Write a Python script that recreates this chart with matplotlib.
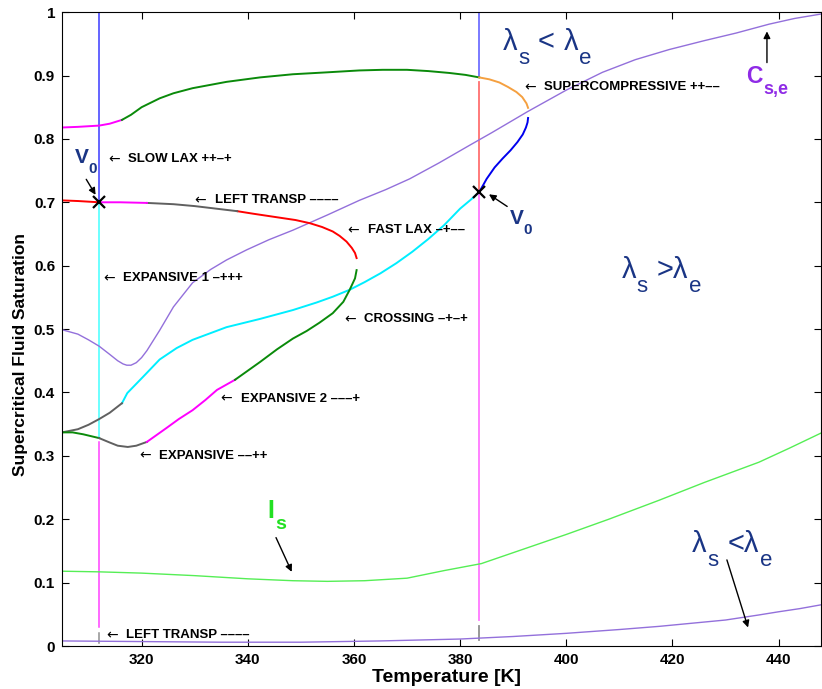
import matplotlib.pyplot as plt
from matplotlib.transforms import offset_copy

plt.rcParams['font.family'] = ['Liberation Sans', 'DejaVu Sans']

# values: temperature [K] / supercritical fluid saturation

# upper branch of the wave curve
t_top_mag = [305, 308, 312, 314, 316.3]
s_top_mag = [0.818, 0.819, 0.821, 0.824, 0.830]
t_top_green = [316.3, 318, 320, 323.4, 326, 329.6, 336, 342.3, 348.5, 354.9, 361, 365.4, 370, 374, 378, 381, 383.6]
s_top_green = [0.830, 0.838, 0.850, 0.864, 0.872, 0.880, 0.890, 0.897, 0.902, 0.905, 0.908, 0.909, 0.909, 0.907, 0.904, 0.901, 0.897]
t_orange = [383.6, 385.5, 387.4, 389, 390.6, 391.7, 392.5, 392.8]
s_orange = [0.897, 0.894, 0.889, 0.882, 0.874, 0.866, 0.856, 0.849]
t_blue = [392.8, 392.7, 392.4, 391.8, 390.8, 389.5, 388, 386.5, 385, 383.6]
s_blue = [0.833, 0.826, 0.818, 0.807, 0.795, 0.782, 0.769, 0.755, 0.737, 0.716]
t_cyan = [383.6, 382, 380, 377, 374, 371, 368, 365, 362, 359.2, 356, 353, 348.5, 342.3, 336, 329.6, 326.6,
          323.4, 320.2, 317.3, 316.3]
s_cyan = [0.716, 0.704, 0.690, 0.664, 0.642, 0.622, 0.604, 0.588, 0.574, 0.562, 0.551, 0.542, 0.530, 0.516,
          0.503, 0.483, 0.470, 0.452, 0.424, 0.399, 0.383]
t_grey_a = [305, 308, 310, 312, 314, 316.3]
s_grey_a = [0.337, 0.342, 0.349, 0.358, 0.368, 0.383]

# lower loop
t_low_green = [305, 307, 309, 312]
s_low_green = [0.337, 0.337, 0.334, 0.328]
t_low_grey = [312, 314, 315.5, 317.4, 319, 321]
s_low_grey = [0.328, 0.321, 0.316, 0.314, 0.316, 0.322]
t_low_mag = [321, 324.7, 327, 329.6, 332, 334.2, 337.6]
s_low_mag = [0.322, 0.344, 0.358, 0.372, 0.388, 0.404, 0.420]
t_low_green2 = [337.6, 342.3, 345.5, 348.5, 351.1, 353.5, 356, 358, 359.2, 360.2, 360.5]
s_low_green2 = [0.420, 0.448, 0.468, 0.485, 0.497, 0.510, 0.525, 0.543, 0.562, 0.580, 0.593]
t_red_r = [360.5, 360.2, 359.6, 358.6, 357.3, 356, 354, 351.7, 349, 345, 341, 338]
s_red_r = [0.612, 0.620, 0.628, 0.638, 0.647, 0.654, 0.661, 0.667, 0.672, 0.677, 0.682, 0.686]
t_grey_b = [338, 334, 330, 326, 321]
s_grey_b = [0.686, 0.690, 0.694, 0.697, 0.699]
t_mid_mag = [321, 316, 312]
s_mid_mag = [0.699, 0.700, 0.700]
t_red_l = [312, 308, 305]
s_red_l = [0.700, 0.702, 0.703]

# coincidence curves
t_cse = [305, 308, 310, 312, 314, 315.5, 316.5, 317.2, 318, 319, 320, 321, 323.4, 326, 329.6, 333, 336, 339.8, 344,
         348.5, 355, 361, 366, 370.5, 376, 381.8, 386, 392.7, 400, 406.8, 413, 419.4, 426, 432, 438.2, 443, 448]
s_cse = [0.499, 0.492, 0.483, 0.473, 0.460, 0.450, 0.445, 0.443, 0.443, 0.447, 0.455, 0.466, 0.498, 0.535, 0.573,
         0.594, 0.609, 0.625, 0.641, 0.656, 0.680, 0.703, 0.720, 0.737, 0.762, 0.790, 0.810, 0.843, 0.877, 0.905,
         0.925, 0.941, 0.955, 0.967, 0.981, 0.990, 0.997]
t_cse_low = [305, 320, 335, 350, 365, 380, 390, 400, 410, 417.5, 425, 430, 436.3, 440, 444, 448]
s_cse_low = [0.008, 0.007, 0.006, 0.006, 0.008, 0.011, 0.015, 0.020, 0.026, 0.031, 0.037, 0.041, 0.049, 0.054, 0.059, 0.065]
t_is = [305, 312, 320, 330, 340, 348.5, 355, 362, 370, 377, 384, 392, 400, 408, 417.5, 426, 436.3, 442, 448]
s_is = [0.118, 0.117, 0.115, 0.111, 0.106, 0.103, 0.102, 0.103, 0.107, 0.119, 0.130, 0.153, 0.176, 0.200, 0.230,
        0.258, 0.290, 0.312, 0.336]

# vertical lines through the two states
v_left = 312
v_right = 383.6
v_left_top = [1.0, 0.700, 0.322, 0.020]
v_left_bot = [0.700, 0.330, 0.030, 0.004]
v_right_top = [1.0, 0.890, 0.714, 0.031]
v_right_bot = [0.898, 0.718, 0.041, 0.010]
v0_t = [312, 383.6]
v0_s = [0.700, 0.716]

fig = plt.figure(figsize=(8.22, 6.89), dpi=100)
ax = fig.add_axes([0.0754, 0.0624, 0.9235, 0.920])
ax.set_xlim(305, 448)
ax.set_ylim(0, 1)
renderer = fig.canvas.get_renderer()

for a, b, c in zip(v_left_top, v_left_bot, ['#3a3aff', '#44ffff', '#ff40ff', '#909090']):
    ax.plot([v_left, v_left], [a, b], color=c, lw=1.1)
for a, b, c in zip(v_right_top, v_right_bot, ['#7070ff', '#ff7070', '#ff77ff', '#909090']):
    ax.plot([v_right, v_right], [a, b], color=c, lw=1.3)

ax.plot(t_cse, s_cse, color='#9370db', lw=1.0)
ax.plot(t_cse_low, s_cse_low, color='#9370db', lw=1.0)
ax.plot(t_is, s_is, color='#55ee55', lw=1.0)

segs = [(t_top_mag, s_top_mag, '#ff00ff'), (t_top_green, s_top_green, '#0a8a0a'),
        (t_orange, s_orange, '#f5a040'), (t_blue, s_blue, '#0000ee'),
        (t_cyan, s_cyan, '#00eeff'), (t_grey_a, s_grey_a, '#606060'),
        (t_low_green, s_low_green, '#0a8a0a'), (t_low_grey, s_low_grey, '#606060'),
        (t_low_mag, s_low_mag, '#ff00ff'), (t_low_green2, s_low_green2, '#0a8a0a'),
        (t_red_r, s_red_r, '#ff0000'), (t_grey_b, s_grey_b, '#606060'),
        (t_mid_mag, s_mid_mag, '#ff00ff'), (t_red_l, s_red_l, '#ff0000')]
for t, s, c in segs:
    ax.plot(t, s, color=c, lw=1.4)

ax.plot(v0_t, v0_s, 'x', color='k', ms=9, mew=1.6)

# wave names with a thin arrow in front
labels = [('SLOW LAX ++–+', 313.65, 0.768), ('LEFT TRANSP ––––', 330.0, 0.703),
          ('FAST LAX –+––', 358.8, 0.656), ('EXPANSIVE 1 –+++', 312.7, 0.580),
          ('CROSSING –+–+', 358.1, 0.516), ('EXPANSIVE 2 –––+', 334.9, 0.390),
          ('EXPANSIVE ––++', 319.5, 0.300), ('LEFT TRANSP ––––', 313.3, 0.017),
          ('SUPERCOMPRESSIVE ++––', 392.1, 0.882)]
for txt, t, s in labels:
    ax.text(t, s, '←', fontsize=10, va='center', ha='left', family='DejaVu Sans')
    ax.text(t, s, txt, transform=offset_copy(ax.transData, fig=fig, x=14.5, y=0, units='points'),
            fontsize=9.5, fontweight='bold', va='center', ha='left')


def sub_text(t, s, pieces, color, size, sub_size, drop, weight='normal'):
    # pieces: (text, is_subscript, gap after in points)
    off = 0.0
    for txt, is_sub, gap in pieces:
        fs = sub_size if is_sub else size
        dy = -drop if is_sub else 0
        tr = offset_copy(ax.transData, fig=fig, x=off, y=dy, units='points')
        tx = ax.text(t, s, txt, transform=tr, fontsize=fs, color=color, fontweight=weight,
                     ha='left', va='baseline')
        off += tx.get_window_extent(renderer).width * 72 / fig.dpi + gap


navy = '#1a3585'
aprops = dict(arrowstyle='-|>', color='k', lw=1.0, mutation_scale=10)
ax.annotate('', xy=(311.6, 0.708), xytext=(309.3, 0.740), arrowprops=aprops)
sub_text(307.4, 0.762, [('V', False, 0), ('0', True, 0)], navy, 15, 11, 7, 'bold')
ax.annotate('', xy=(385.0, 0.715), xytext=(389.3, 0.691), arrowprops=aprops)
sub_text(389.3, 0.666, [('V', False, 0), ('0', True, 0)], navy, 15, 11, 7, 'bold')
ax.annotate('', xy=(437.8, 0.974), xytext=(437.8, 0.916), arrowprops=aprops)
sub_text(433.9, 0.888, [('C', False, 0.5), ('s,e', True, 0)], '#8f2be6', 16.5, 13, 8, 'bold')
ax.annotate('', xy=(348.5, 0.113), xytext=(345.1, 0.175), arrowprops=aprops)
sub_text(343.6, 0.202, [('I', False, 1), ('s', True, 0)], '#22e022', 18, 14, 8, 'bold')
ax.annotate('', xy=(434.4, 0.025), xytext=(430.1, 0.140), arrowprops=aprops)

sub_text(388.0, 0.940, [('λ', False, 0.5), ('s', True, 6.5), ('<', False, 6.5), ('λ', False, 0.5), ('e', True, 0)],
         navy, 21, 16, 10)
sub_text(410.4, 0.580, [('λ', False, 0.5), ('s', True, 6.5), ('>λ', False, 0.5), ('e', True, 0)],
         navy, 21, 16, 10)
sub_text(423.7, 0.148, [('λ', False, 0.5), ('s', True, 6.5), ('<λ', False, 0.5), ('e', True, 0)],
         navy, 21, 16, 10)

ax.set_xticks([320, 340, 360, 380, 400, 420, 440])
ax.set_yticks([0, 0.1, 0.2, 0.3, 0.4, 0.5, 0.6, 0.7, 0.8, 0.9, 1])
ax.set_yticklabels(['0', '0.1', '0.2', '0.3', '0.4', '0.5', '0.6', '0.7', '0.8', '0.9', '1'])
ax.tick_params(direction='in', top=True, right=True, length=5, width=0.8, labelsize=11, pad=5)
for lab in ax.get_xticklabels() + ax.get_yticklabels():
    lab.set_fontweight('bold')
ax.set_xlabel('Temperature [K]', fontsize=14, fontweight='bold')
ax.set_ylabel('Supercritical Fluid Saturation', fontsize=12.5, fontweight='bold')
ax.xaxis.set_label_coords(0.507, -0.036)
ax.yaxis.set_label_coords(-0.045, 0.46)

fig.savefig('out.png', dpi=100)
